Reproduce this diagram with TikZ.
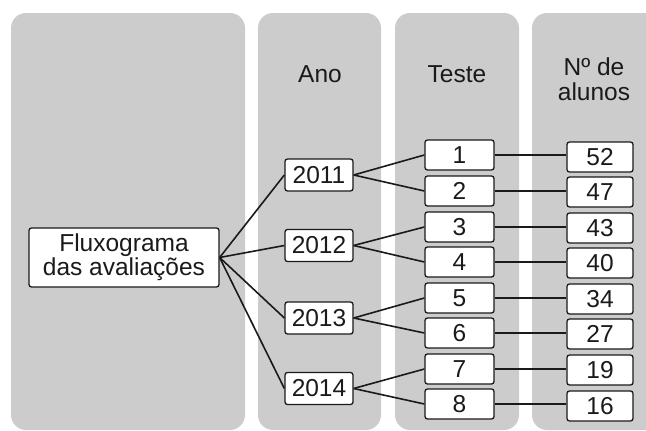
\documentclass[tikz,border=0pt]{standalone}
\usepackage{fontspec}
\setmainfont{Liberation Sans}
\definecolor{panelgray}{HTML}{CCCCCC}
\definecolor{inkc}{HTML}{1A1A1A}
\begin{document}
\begin{tikzpicture}[x=1pt,y=-1pt,
  panel/.style={fill=panelgray, draw=none, rounded corners=15pt},
  hdr/.style={text=inkc, font=\fontsize{24.5}{25}\selectfont, align=center, inner sep=0pt},
  box/.style={draw=inkc, line width=1.3pt, fill=white, rounded corners=2.5pt, inner sep=0pt,
    text=inkc, font=\fontsize{24.5}{24}\selectfont, align=center},
  yearbox/.style={box, minimum width=68pt, minimum height=32pt},
  testbox/.style={box, minimum width=69pt, minimum height=30pt},
  numbox/.style={box, minimum width=66pt, minimum height=30pt},
  link/.style={draw=inkc, line width=1.6pt}
]
\useasboundingbox (0,0) rectangle (646,431);
\clip (0,0) rectangle (646,431);
% panels
\fill[panel] (11,13) rectangle (245,430);
\fill[panel] (258,13) rectangle (381,430);
\fill[panel] (395,13) rectangle (519,430);
\fill[panel] (532,13) rectangle (680,430);
% headers
\node[hdr] (hano) at (320,74) {Ano};
\node[hdr] (hteste) at (457,74) {Teste};
\node[hdr] (halunos) at (594,79) {Nº de\\alunos};
% root
\node[box, minimum width=190pt, minimum height=59pt] (root) at (124,257.5) {Fluxograma\\das avaliações};
% years
\node[yearbox] (y1) at (319,175) {2011};
\node[yearbox] (y2) at (319,245.5) {2012};
\node[yearbox] (y3) at (319,318) {2013};
\node[yearbox] (y4) at (319,388.5) {2014};
% tests
\node[testbox] (t1) at (459.5,155) {1};
\node[testbox] (t2) at (459.5,191) {2};
\node[testbox] (t3) at (459.5,227) {3};
\node[testbox] (t4) at (459.5,262) {4};
\node[testbox] (t5) at (459.5,298) {5};
\node[testbox] (t6) at (459.5,333) {6};
\node[testbox] (t7) at (459.5,369) {7};
\node[testbox] (t8) at (459.5,404) {8};
% numbers
\node[numbox] (n1) at (600,157) {52};
\node[numbox] (n2) at (600,192) {47};
\node[numbox] (n3) at (600,228) {43};
\node[numbox] (n4) at (600,263) {40};
\node[numbox] (n5) at (600,299) {34};
\node[numbox] (n6) at (600,334) {27};
\node[numbox] (n7) at (600,370) {19};
\node[numbox] (n8) at (600,406) {16};
% connectors
\foreach \y in {1,2,3,4} {\draw[link] (root.east) -- (y\y.west);}
\draw[link] (y1.east) -- (t1.west);
\draw[link] (y1.east) -- (t2.west);
\draw[link] (y2.east) -- (t3.west);
\draw[link] (y2.east) -- (t4.west);
\draw[link] (y3.east) -- (t5.west);
\draw[link] (y3.east) -- (t6.west);
\draw[link] (y4.east) -- (t7.west);
\draw[link] (y4.east) -- (t8.west);
\foreach \i in {1,...,8} {\draw[link] (t\i.east) -- (t\i.east -| n\i.west);}
\end{tikzpicture}
\end{document}
